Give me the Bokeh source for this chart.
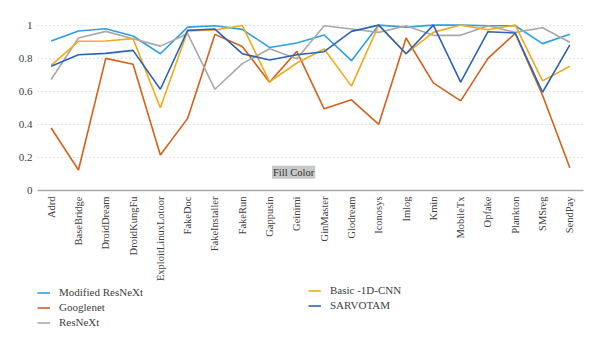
import math
from bokeh.plotting import figure
from bokeh.layouts import column
from bokeh.models import (FactorRange, Range1d, FixedTicker, Legend, LegendItem, Label)
from bokeh.embed import file_html
from bokeh.resources import INLINE

categories = ["Adrd", "BaseBridge", "DroidDream", "DroidKungFu", "ExploitLinuxLotoor",
              "FakeDoc", "FakeInstaller", "FakeRun", "Gappusin", "Geinimi", "GinMaster",
              "Glodream", "Iconosys", "Imlog", "Kmin", "MobileTx", "Opfake", "Plankton",
              "SMSreg", "SendPay"]

modified_resnext = [0.904, 0.964, 0.978, 0.934, 0.827, 0.988, 0.996, 0.974, 0.865, 0.892,
                    0.940, 0.785, 1.000, 0.988, 1.000, 1.000, 0.996, 0.996, 0.888, 0.944]
googlenet = [0.378, 0.124, 0.799, 0.763, 0.215, 0.436, 0.944, 0.871, 0.655, 0.841,
             0.494, 0.548, 0.400, 0.922, 0.651, 0.542, 0.799, 0.950, 0.576, 0.137]
resnext = [0.671, 0.922, 0.962, 0.918, 0.873, 0.948, 0.612, 0.767, 0.857, 0.797,
           0.996, 0.976, 0.956, 0.996, 0.938, 0.938, 0.996, 0.956, 0.984, 0.896]
basic_1d_cnn = [0.757, 0.902, 0.904, 0.918, 0.500, 0.964, 0.970, 0.998, 0.657, 0.771,
                0.855, 0.631, 1.000, 0.827, 0.956, 1.000, 0.972, 1.000, 0.663, 0.751]
sarvotam = [0.751, 0.821, 0.829, 0.847, 0.612, 0.968, 0.976, 0.827, 0.789, 0.821,
            0.839, 0.962, 1.000, 0.827, 1.000, 0.655, 0.960, 0.952, 0.594, 0.880]

series_names = ["Modified ResNeXt", "Googlenet", "ResNeXt", "Basic -1D-CNN", "SARVOTAM"]
series_values = [modified_resnext, googlenet, resnext, basic_1d_cnn, sarvotam]
series_colors = ["#2E9FE0", "#D4601A", "#A8A8A8", "#F2A91C", "#2B63B8"]

y_ticks = [0, 0.2, 0.4, 0.6, 0.8, 1.0]
y_tick_labels = ["0", "0.2", "0.4", "0.6", "0.8", "1"]

FONT = "Liberation Serif"
TXT = "#404040"
LW = 1.6

p = figure(width=600, height=284, x_range=FactorRange(*categories),
           y_range=Range1d(0, 1.052), output_backend="svg", toolbar_location=None,
           min_border_left=37, min_border_right=17, min_border_top=16,
           min_border_bottom=93)
p.outline_line_color = None
p.background_fill_color = "white"

for name, vals, col in zip(series_names, series_values, series_colors):
    p.line(categories, vals, line_color=col, line_width=LW)

# grid
p.xgrid.grid_line_color = None
p.ygrid.ticker = FixedTicker(ticks=y_ticks[1:])
p.ygrid.grid_line_color = "#c4c4c4"
p.ygrid.grid_line_dash = "1 3"
p.ygrid.grid_line_width = 1.2

# y axis
p.yaxis.ticker = FixedTicker(ticks=y_ticks)
p.yaxis.major_label_overrides = {t: l for t, l in zip(y_ticks, y_tick_labels)}
p.yaxis.axis_line_color = None
p.yaxis.major_tick_line_color = None
p.yaxis.minor_tick_line_color = None
p.yaxis.major_tick_out = 0
p.yaxis.major_tick_in = 0
p.yaxis.major_label_standoff = 5
p.yaxis.major_label_text_font = FONT
p.yaxis.major_label_text_font_size = "11px"
p.yaxis.major_label_text_color = TXT

# x axis
p.xaxis.axis_line_color = "#a8a8a8"
p.xaxis.axis_line_width = 1.5
p.xaxis.major_tick_line_color = None
p.xaxis.minor_tick_line_color = None
p.xaxis.major_tick_out = 0
p.xaxis.major_tick_in = 0
p.xaxis.major_label_standoff = 6
p.xaxis.major_label_orientation = math.pi / 2
p.xaxis.major_label_text_font = FONT
p.xaxis.major_label_text_font_size = "10.5px"
p.xaxis.major_label_text_color = TXT

# "Fill Color" label
lbl = Label(x=9.38, y=0.11, text="Fill Color", text_font=FONT, text_font_size="10.5px",
            text_color="#303030", text_align="center", text_baseline="middle",
            background_fill_color="#c8c8c8", padding=1)
p.add_layout(lbl)

# legend figure
p2 = figure(width=600, height=60, x_range=Range1d(0, 1), y_range=Range1d(0, 1),
            output_backend="svg", toolbar_location=None, x_axis_type=None,
            y_axis_type=None, min_border=0, min_border_left=0, min_border_right=0,
            min_border_top=0, min_border_bottom=0)
p2.outline_line_color = None
p2.xgrid.grid_line_color = None
p2.ygrid.grid_line_color = None

legend_renderers = []
for col in series_colors:
    legend_renderers.append(p2.line(x=[-5, -4], y=[-5, -4], line_color=col, line_width=LW))

def make_legend(idx, loc):
    items = [LegendItem(label=series_names[i], renderers=[legend_renderers[i]]) for i in idx]
    return Legend(items=items, location=loc, orientation="vertical",
                  border_line_color=None, background_fill_alpha=0,
                  padding=0, margin=0, spacing=3, glyph_width=13, glyph_height=11,
                  label_height=11, label_standoff=9, label_text_font=FONT,
                  label_text_font_size="11px", label_text_color=TXT)

p2.add_layout(make_legend([0, 1, 2], (0, 16)))
p2.add_layout(make_legend([3, 4], (271, 33)))

layout = column(p, p2, spacing=0)
open("out.html", "w").write(file_html(layout, INLINE))
